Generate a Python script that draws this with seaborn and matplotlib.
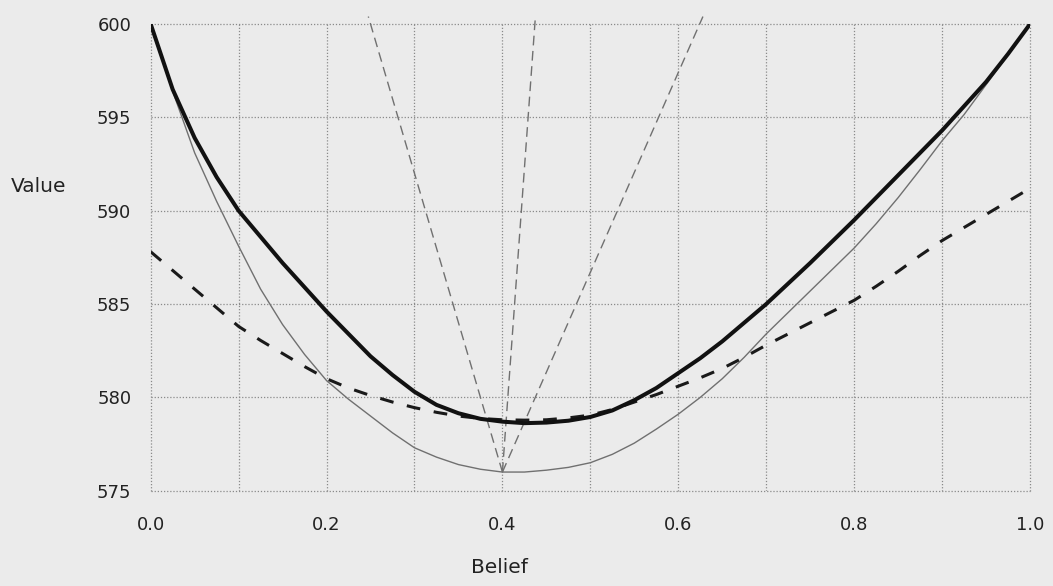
import numpy as np
import pandas as pd
import matplotlib
matplotlib.use("Agg")
import matplotlib.pyplot as plt
import seaborn as sns

# Belief grid for the three value curves
belief = [0.000, 0.025, 0.050, 0.075, 0.100, 0.125, 0.150, 0.175, 0.200, 0.225,
          0.250, 0.275, 0.300, 0.325, 0.350, 0.375, 0.400, 0.425, 0.450, 0.475,
          0.500, 0.525, 0.550, 0.575, 0.600, 0.625, 0.650, 0.675, 0.700, 0.725,
          0.750, 0.775, 0.800, 0.825, 0.850, 0.875, 0.900, 0.925, 0.950, 0.975,
          1.000]

# Optimal value (thick solid)
value_optimal = [600.0, 596.5, 593.9, 591.8, 590.0, 588.6, 587.2, 585.9, 584.6,
                 583.4, 582.2, 581.2, 580.3, 579.6, 579.15, 578.85, 578.7,
                 578.62, 578.65, 578.75, 578.95, 579.3, 579.85, 580.5, 581.3,
                 582.1, 583.0, 584.0, 585.0, 586.1, 587.2, 588.35, 589.5,
                 590.7, 591.9, 593.1, 594.3, 595.6, 596.9, 598.4, 600.0]

# Approximate value (thin solid)
value_approx = [600.0, 596.4, 593.1, 590.5, 588.1, 585.8, 583.9, 582.3, 580.9,
                579.9, 579.0, 578.1, 577.3, 576.8, 576.4, 576.15, 576.0, 576.0,
                576.1, 576.25, 576.5, 576.95, 577.55, 578.3, 579.1, 580.0,
                581.0, 582.15, 583.4, 584.55, 585.7, 586.85, 588.0, 589.3,
                590.7, 592.2, 593.75, 595.15, 596.75, 598.35, 600.0]

# Policy value (thick dashed)
value_policy = [587.8, 586.8, 585.8, 584.8, 583.8, 583.05, 582.35, 581.65, 581.0,
                580.5, 580.1, 579.75, 579.45, 579.2, 579.0, 578.87, 578.8,
                578.78, 578.8, 578.9, 579.05, 579.35, 579.75, 580.15, 580.6,
                581.05, 581.55, 582.15, 582.8, 583.4, 584.0, 584.6, 585.2,
                585.95, 586.75, 587.6, 588.4, 589.1, 589.8, 590.5, 591.2]

# Rays leaving the minimum of the approximate curve
ray_origin_belief = 0.40
ray_origin_value = 576.0
ray_end_belief = [0.2475, 0.4375, 0.628]
ray_end_value = [600.4, 600.4, 600.4]

x_ticks = [0.0, 0.2, 0.4, 0.6, 0.8, 1.0]
x_tick_labels = ["0.0", "0.2", "0.4", "0.6", "0.8", "1.0"]
y_ticks = [575, 580, 585, 590, 595, 600]
y_tick_labels = ["575", "580", "585", "590", "595", "600"]

bg = "#ebebeb"
sns.set_theme(style="white")
plt.rcParams["font.family"] = ["DejaVu Sans"]

fig = plt.figure(figsize=(10.53, 5.86), dpi=100, facecolor=bg)
ax = fig.add_axes([0.1431, 0.1626, 0.8351, 0.7964])
ax.set_facecolor(bg)

curves = pd.DataFrame({
    "Belief": belief,
    "optimal": value_optimal,
    "approx": value_approx,
    "policy": value_policy,
})

# Rays (thin gray dashed), drawn a little past the top of the frame
for xb, yb in zip(ray_end_belief, ray_end_value):
    ray = pd.DataFrame({"Belief": [ray_origin_belief, xb],
                        "Value": [ray_origin_value, yb]})
    sns.lineplot(data=ray, x="Belief", y="Value", ax=ax, color="#707070",
                 lw=1.0, estimator=None, sort=False)
    l = ax.lines[-1]
    l.set_linestyle((0, (7, 4)))
    l.set_clip_on(False)

sns.lineplot(data=curves, x="Belief", y="approx", ax=ax, color="#707070",
             lw=1.0, estimator=None)
sns.lineplot(data=curves, x="Belief", y="policy", ax=ax, color="#1a1a1a",
             lw=2.2, estimator=None)
ax.lines[-1].set_linestyle((0, (4.5, 4.5)))
sns.lineplot(data=curves, x="Belief", y="optimal", ax=ax, color="#111111",
             lw=2.9, estimator=None)
for l in ax.lines:
    l.set_solid_joinstyle("round")
    l.set_dash_joinstyle("round")

ax.set_xlim(0, 1)
ax.set_ylim(575, 600)
ax.set_xticks(x_ticks)
ax.set_xticklabels(x_tick_labels)
ax.set_yticks(y_ticks)
ax.set_yticklabels(y_tick_labels)
ax.set_xticks(np.arange(0.1, 1.0, 0.2), minor=True)

grid_style = dict(color="#8a8a8a", lw=0.9, linestyle=(0, (1, 1.5)))
ax.grid(True, which="both", axis="x", **grid_style)
ax.grid(True, which="major", axis="y", **grid_style)
for s in ax.spines.values():
    s.set_visible(False)

ax.tick_params(axis="both", which="both", length=4, width=0.8,
               color="#9a9a9a", labelsize=13, labelcolor="#222222")
ax.tick_params(axis="x", which="both", pad=14)
ax.tick_params(axis="y", which="major", pad=10)

ax.set_xlabel("Belief", fontsize=14.5, color="#222222", va="center")
ax.xaxis.set_label_coords(0.397, -0.1635)
ax.set_ylabel("Value", fontsize=14.5, color="#222222", rotation=0,
              ha="center", va="center")
ax.yaxis.set_label_coords(-0.128, 0.651)

fig.canvas.draw()
for gl in ax.get_xgridlines() + ax.get_ygridlines():
    gl.set_clip_on(False)

fig.savefig("out.png", dpi=100, facecolor=bg)
